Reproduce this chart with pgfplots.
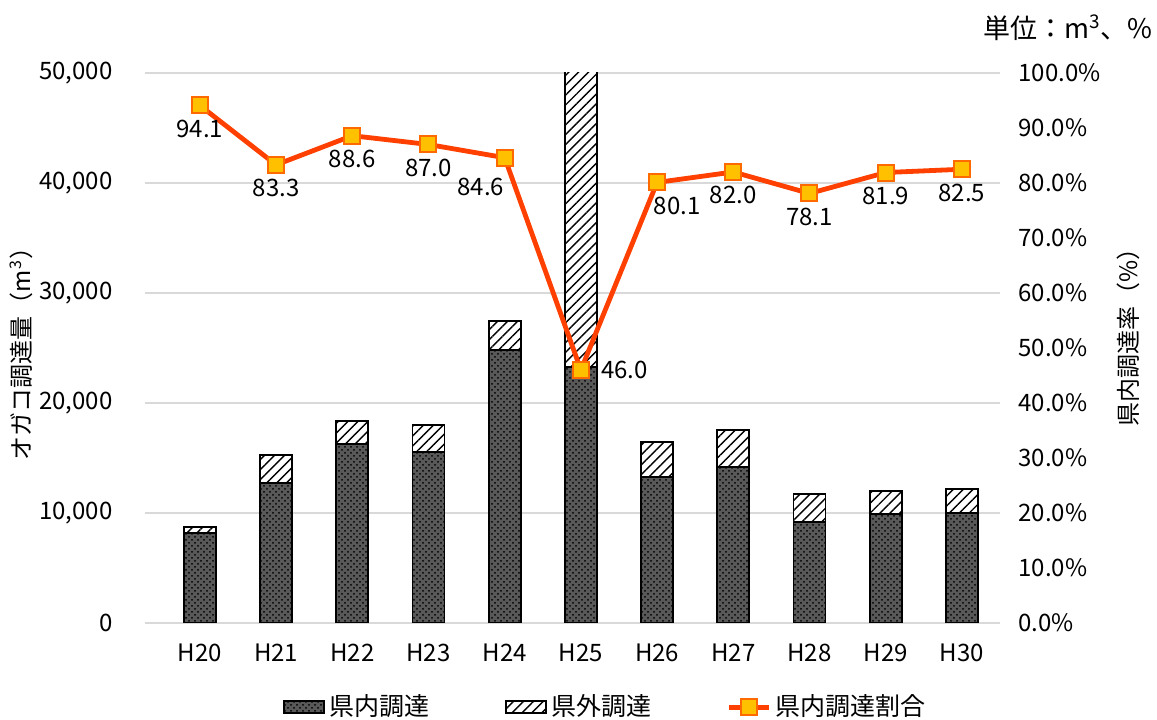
\documentclass[border=0pt]{standalone}
\usepackage{fontspec}
\setmainfont{Noto Sans CJK JP}
\usepackage{pgfplots}
\pgfplotsset{compat=1.18}
\usepackage{pgfplotstable}
\usetikzlibrary{patterns,patterns.meta,calc}

\definecolor{lineorange}{HTML}{FF4000}
\definecolor{markfill}{HTML}{FFC000}
\definecolor{markdraw}{HTML}{FF6A00}
\definecolor{gridgray}{HTML}{D9D9D9}

\pgfplotsset{/pgf/number format/assume math mode=true}

% 県内 / 県外 調達量 (m3)
\pgfplotstableread{
x  inpref  outpref
0  8180    520
1  12720   2550
2  16270   2090
3  15550   2450
4  24820   2630
5  23270   27330
6  13270   3180
7  14180   3370
8  9180    2550
9  9910    2090
10 10000   2180
}\amounts

% 県内調達割合 (%)
\pgfplotstableread{
x  ratio
0  94.1
1  83.3
2  88.6
3  87.0
4  84.6
5  46.0
6  80.1
7  82.0
8  78.1
9  81.9
10 82.5
}\ratios

\pgfplotsset{
  lbl/.style n args={3}{draw=none, mark=none, forget plot,
    nodes near coords={\pgfmathprintnumber[fixed,fixed zerofill,precision=1]{\pgfplotspointmeta}},
    every node near coord/.append style={anchor=#1, xshift=#2, yshift=#3,
      font=\fontsize{12}{14}\selectfont, black, inner sep=2pt}},
}

\begin{document}
\begin{tikzpicture}
\fontsize{12}{14}\selectfont
\begin{axis}[
  name=main,
  scale only axis,
  width=427.5pt, height=275pt,
  ybar stacked,
  bar width=16pt,
  xmin=-0.72, xmax=10.5,
  ymin=0, ymax=50000,
  xtick={0,...,10},
  xticklabels={H20,H21,H22,H23,H24,H25,H26,H27,H28,H29,H30},
  ytick={0,10000,...,50000},
  yticklabel style={/pgf/number format/1000 sep={,}, xshift=-12pt},
  scaled y ticks=false,
  xticklabel style={yshift=-6.5pt},
  ymajorgrids,
  grid style={gridgray, line width=0.7pt},
  axis line style={draw=none},
  tick style={draw=none},
  ylabel={オガコ調達量（m\textsuperscript{3}）},
  ylabel shift=-5pt,
  legend style={at={(0.54,-0.153)}, anchor=center, draw=none,
    legend columns=3, font=\fontsize{12.5}{14}\selectfont,
    /tikz/every even column/.append style={column sep=36pt}},
  legend image code/.code={\draw[#1] (0pt,-3pt) rectangle (20pt,3pt);},
]
\addplot[draw=black, line width=0.9pt, fill=black!65,
  postaction={pattern=crosshatch dots, pattern color=black}]
  table[x=x, y=inpref] {\amounts};
\addlegendentry{県内調達}
\addplot[draw=black, line width=0.9pt, fill=white,
  postaction={pattern={Lines[angle=45, distance=3.5pt, line width=0.7pt]}, pattern color=black}]
  table[x=x, y=outpref] {\amounts};
\addlegendentry{県外調達}
\addlegendimage{legend image code/.code={
  \draw[lineorange, line width=2.4pt] (0pt,0pt) -- (20pt,0pt);
  \draw[markdraw, fill=markfill, line width=1pt] (6pt,-4pt) rectangle (14pt,4pt);}}
\addlegendentry{県内調達割合}
\end{axis}

\begin{axis}[
  scale only axis,
  width=427.5pt, height=275pt,
  xmin=-0.72, xmax=10.5,
  ymin=0, ymax=100,
  xtick=\empty,
  ytick={0,10,...,100},
  yticklabel pos=right,
  yticklabel={\pgfmathprintnumber[fixed,fixed zerofill,precision=1]{\tick}\%},
  yticklabel style={xshift=5pt},
  axis line style={draw=none},
  tick style={draw=none},
  ylabel={県内調達率（\%）},
  ylabel style={at={(ticklabel cs:0.53)}},
  clip=false,
]
\addplot[lineorange, line width=2.4pt,
  mark=square*, mark size=4pt,
  mark options={draw=markdraw, fill=markfill, line width=1pt, solid},
] table[x=x, y=ratio] {\ratios};
\addplot[lbl={north}{0pt}{-5pt}, x filter/.expression={(x==4||x==5||x==6) ? nan : x}]
  table[x=x, y=ratio] {\ratios};
\addplot[lbl={north}{-12pt}{-8pt}, x filter/.expression={x==4 ? x : nan}]
  table[x=x, y=ratio] {\ratios};
\addplot[lbl={west}{8pt}{0pt}, x filter/.expression={x==5 ? x : nan}]
  table[x=x, y=ratio] {\ratios};
\addplot[lbl={north}{10pt}{-5pt}, x filter/.expression={x==6 ? x : nan}]
  table[x=x, y=ratio] {\ratios};
\end{axis}

\node[anchor=center, font=\fontsize{13.5}{15}\selectfont] at ($(main.north east)+(34pt,22.5pt)$) {単位：m\textsuperscript{3}、\%};

\pgfresetboundingbox
\path[use as bounding box] ($(main.south west)+(-72.5pt,-48.5pt)$) rectangle ($(main.north east)+(78.5pt,36.5pt)$);
\end{tikzpicture}
\end{document}
